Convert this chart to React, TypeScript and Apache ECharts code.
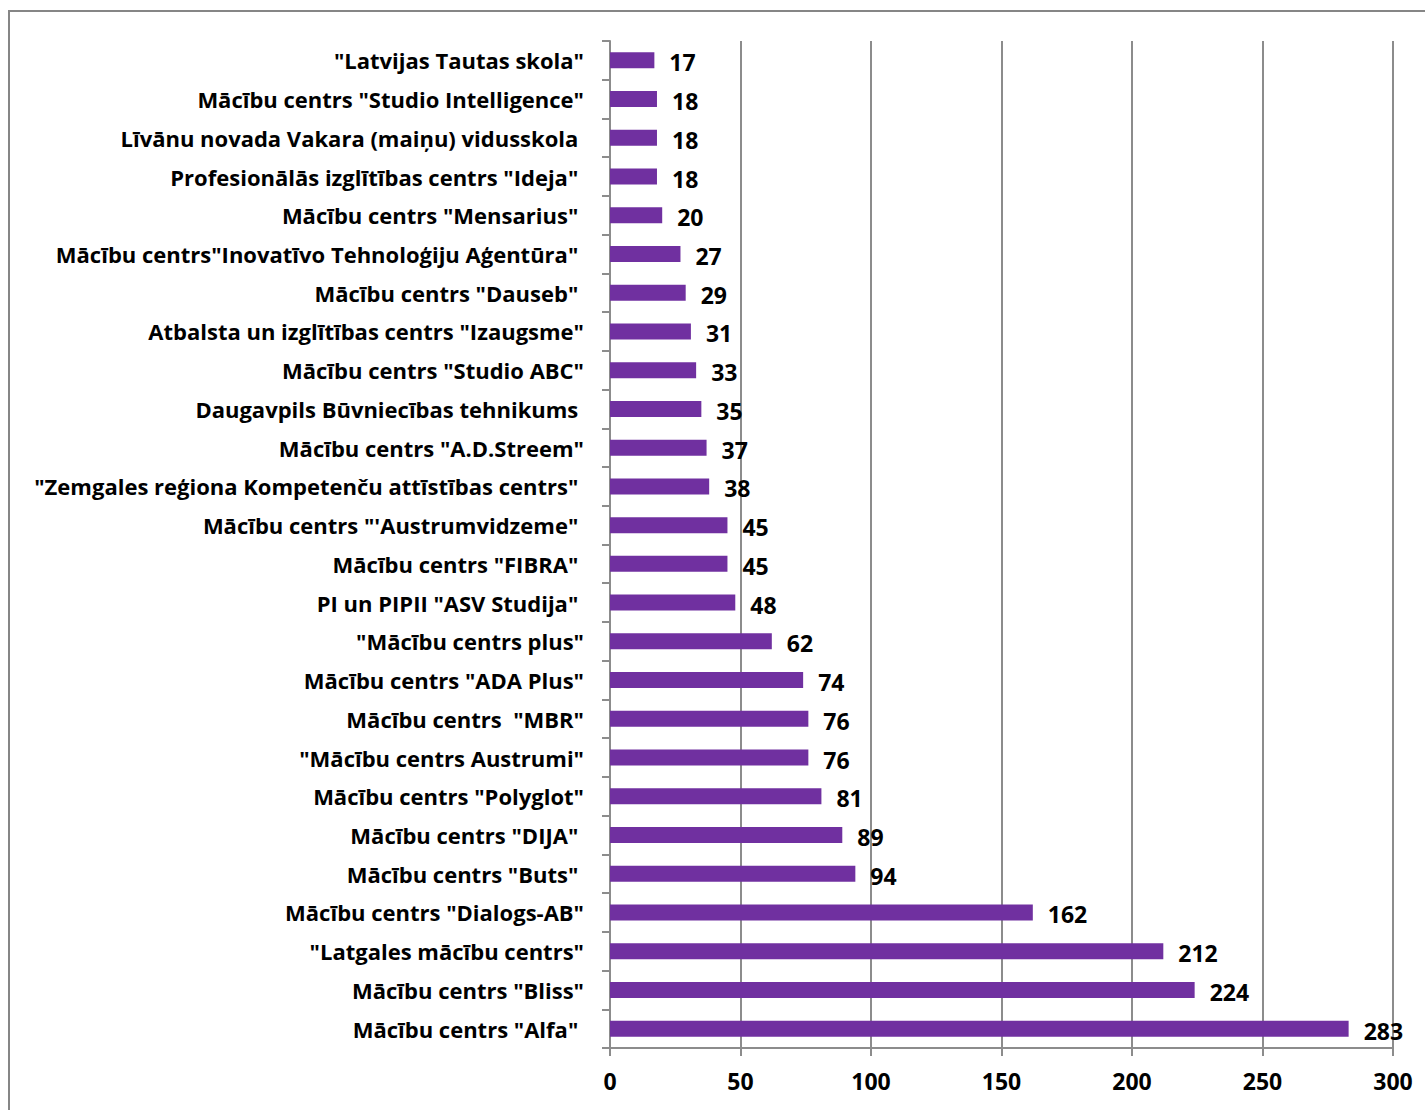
import React, { useEffect, useRef } from "react";
import * as echarts from "echarts";

const NB = "\u00a0";
const categories = [
  '"Latvijas Tautas skola"',
  'Mācību centrs "Studio Intelligence"',
  "Līvānu novada Vakara (maiņu) vidusskola" + NB,
  'Profesionālās izglītības centrs "Ideja"' + NB,
  'Mācību centrs "Mensarius"' + NB,
  'Mācību centrs"Inovatīvo Tehnoloģiju Aģentūra"' + NB,
  'Mācību centrs "Dauseb"' + NB,
  'Atbalsta un izglītības centrs "Izaugsme"',
  'Mācību centrs "Studio ABC"',
  "Daugavpils Būvniecības tehnikums" + NB,
  'Mācību centrs "A.D.Streem"',
  '"Zemgales reģiona Kompetenču attīstības centrs"' + NB,
  'Mācību centrs "\'Austrumvidzeme"' + NB,
  'Mācību centrs "FIBRA"' + NB,
  'PI un PIPII "ASV Studija"' + NB,
  '"Mācību centrs plus"',
  'Mācību centrs "ADA Plus"',
  'Mācību centrs  "MBR"',
  '"Mācību centrs Austrumi"',
  'Mācību centrs "Polyglot"',
  'Mācību centrs "DIJA"' + NB,
  'Mācību centrs "Buts"' + NB,
  'Mācību centrs "Dialogs-AB"',
  '"Latgales mācību centrs"',
  'Mācību centrs "Bliss"',
  'Mācību centrs "Alfa"' + NB,
];

const values = [17, 18, 18, 18, 20, 27, 29, 31, 33, 35, 37, 38, 45, 45, 48, 62, 74, 76, 76, 81, 89, 94, 162, 212, 224, 283];

const xTicks = { min: 0, max: 300, interval: 50 };

const FONT = "Open Sans";

export default function App() {
  const ref = useRef<HTMLDivElement>(null);
  useEffect(() => {
    document.body.style.margin = "0";
    const chart = echarts.init(ref.current!, null, { renderer: "svg" });
    chart.setOption({
      animation: false,
      backgroundColor: "#ffffff",
      textStyle: { fontFamily: FONT },
      grid: { left: 610, right: 32, top: 41, bottom: 62, containLabel: false },
      graphic: [
        {
          type: "rect",
          shape: { x: 9, y: 11, width: 1440, height: 1120 },
          style: { fill: "none", stroke: "#868686", lineWidth: 2 },
          silent: true,
          z: 100,
        },
      ],
      xAxis: {
        type: "value",
        min: xTicks.min,
        max: xTicks.max,
        interval: xTicks.interval,
        axisLine: { show: true, lineStyle: { color: "#8c8c8c", width: 2 } },
        axisTick: { show: true, length: 8, lineStyle: { color: "#8c8c8c", width: 2 } },
        splitLine: { show: true, lineStyle: { color: "#8c8c8c", width: 2 } },
        axisLabel: {
          color: "#000",
          fontFamily: FONT,
          fontWeight: "bold",
          fontSize: 23,
          margin: 21,
        },
      },
      yAxis: {
        type: "category",
        inverse: true,
        data: categories,
        axisLine: { show: true, lineStyle: { color: "#8c8c8c", width: 2 } },
        axisTick: { show: true, length: 8, lineStyle: { color: "#8c8c8c", width: 2 } },
        axisLabel: {
          color: "#000",
          fontFamily: FONT,
          fontWeight: "bold",
          fontSize: 22,
          margin: 26,
        },
      },
      series: [
        {
          type: "bar",
          data: values,
          barWidth: 16,
          itemStyle: { color: "#7030A0" },
          label: {
            show: true,
            position: "right",
            distance: 15,
            offset: [0, 2],
            color: "#000",
            fontFamily: FONT,
            fontWeight: "bold",
            fontSize: 23,
          },
        },
      ],
    });
    return () => chart.dispose();
  }, []);
  return <div ref={ref} style={{ width: 1425, height: 1110 }} />;
}
